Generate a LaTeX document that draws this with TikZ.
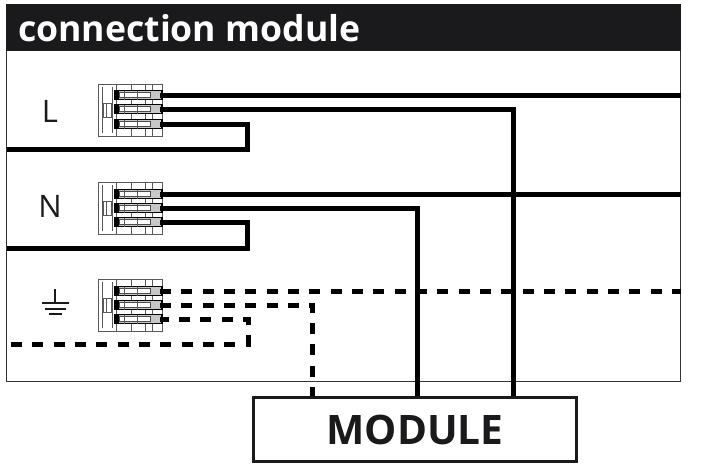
\documentclass[tikz,border=0pt]{standalone}
\usepackage{fontspec}
\setmainfont{Open Sans}
\definecolor{inkk}{HTML}{1A1A1C}
\tikzset{
  wire/.style={draw=black,line width=5pt,line join=miter},
  gwire/.style={wire,dash pattern=on 11pt off 10.33pt},
  thin part/.style={draw=black!65,line width=0.8pt},
  slot/.style={draw=black,line width=1.4pt},
  lab/.style={font=\fontsize{31}{31}\selectfont,text=inkk,inner sep=0pt,anchor=center},
}
% #1 prefix, #2 top of block, #3 #4 #5 slot y's
\newcommand{\termblock}[5]{%
  \fill[white] (98,#2) rectangle (162,#2+52);
  \draw[thin part] (98,#2) rectangle (162,#2+52);
  \draw[thin part,line width=1.1pt] (102.5,#2+3) -- (102.5,#2+49);
  \draw[thin part,line width=1.1pt] (112.5,#2+3) -- (112.5,#2+49);
  \draw[thin part] (103,#2+19) rectangle (111.5,#2+33);
  \draw[thin part] (106,#2+19) -- (106,#2+33);
  \foreach \vx in {116,131,145,152}{\draw[thin part] (\vx,#2) -- (\vx,#2+52);}
  \foreach \sy/\sn in {#3/1,#4/2,#5/3}{
    \fill[black!22] (115,\sy-4.5) rectangle (162,\sy+4.5);
    \fill[white] (119,\sy-3) rectangle (150.5,\sy+2);
    \draw[slot] (115,\sy-4.5) rectangle (162,\sy+4.5);
    \fill[black] (114.5,\sy-4.5) rectangle (118.5,\sy+4.5);
    \draw[black!70,line width=0.9pt] (119,\sy-3) rectangle (150.5,\sy+2);
    \draw[thin part,line width=0.7pt] (124,\sy-4.5) -- (124,\sy+4.5);
    \draw[thin part,line width=0.7pt] (137,\sy-4.5) -- (137,\sy+4.5);
    \coordinate (#1\sn) at (160,\sy);
  }%
}
\begin{document}
\begin{tikzpicture}[x=1pt,y=-1pt]
\useasboundingbox (0,0) rectangle (727,466);
\fill[white] (0,0) rectangle (727,466);
% frame and header
\draw[draw=black!80,line width=1pt] (6.5,4) rectangle (680.5,381);
\fill[inkk] (6,4) rectangle (681,51);
\node[anchor=base west,inner sep=0pt,text=white,font=\bfseries\fontsize{35.6}{35.6}\selectfont] (title) at (18,41) {connection module};
% labels
\node[lab] (labL) at (50,111) {L};
\node[lab] (labN) at (50,206) {N};
% earth symbol
\coordinate (e0) at (55,289);
\coordinate (e1) at (55,302.7);
\draw[inkk,line width=1.6pt] (e0) -- (e1);
\draw[inkk,line width=1.8pt] (42,302.7) -- (69,302.7);
\draw[inkk,line width=1.8pt] (44.5,308.7) -- (66,308.7);
\draw[inkk,line width=1.8pt] (49,314) -- (62,314);
% free ends
\coordinate (rL) at (681,95);
\coordinate (rN) at (681,194);
\coordinate (rG) at (681,291);
\coordinate (inL) at (6.5,149.5);
\coordinate (inN) at (6.5,248);
\coordinate (inG) at (11,344);
% module box
\node[draw=inkk,line width=2.4pt,fill=white,minimum width=323pt,minimum height=64pt,inner sep=0pt,text=inkk,font=\bfseries\fontsize{40.6}{40.6}\selectfont] (module) at (415,429.5) {MODULE};
% terminal blocks
\termblock{L}{84}{95}{109}{124}
\termblock{N}{182}{194}{208}{222}
\termblock{G}{279}{291}{305}{319}
% wires
\draw[wire] (L1) -- (rL);
\draw[wire] (L2) -- (513.5,109) -- (513.5,396);
\draw[wire] (L3) -- (247.5,124) -- (247.5,149.5) -- (inL);
\draw[wire] (N1) -- (rN);
\draw[wire] (N2) -- (417.5,208) -- (417.5,396);
\draw[wire] (N3) -- (247.5,222) -- (247.5,248) -- (inN);
\draw[gwire] (G1) -- (rG);
\draw[gwire] (G2) -- (312.5,305) -- (312.5,396);
\draw[gwire] (inG) -- (248,344) -- (248,319) -- (G3);
\end{tikzpicture}
\end{document}
